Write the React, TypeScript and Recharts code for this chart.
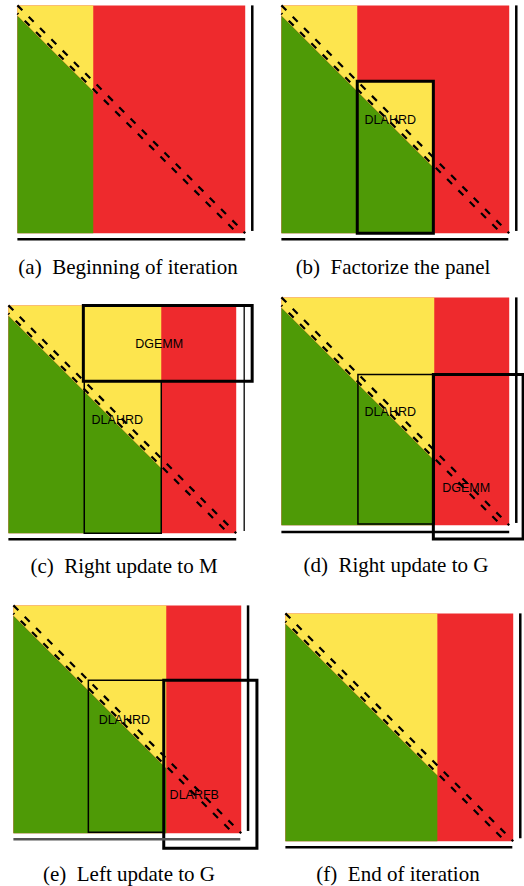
import React from "react";
import {
  ComposedChart,
  Area,
  XAxis,
  YAxis,
  ReferenceArea,
  ReferenceLine,
  ReferenceDot,
} from "recharts";

// All values are fractions of the matrix order n (row 0 at the top).
const captions = [
  "(a)\u2002Beginning of iteration",
  "(b)\u2002Factorize the panel",
  "(c)\u2002Right update to M",
  "(d)\u2002Right update to G",
  "(e)\u2002Left update to G",
  "(f)\u2002End of iteration",
];

// columns already reduced (yellow above / green below the subdiagonal)
const reducedCols = [0.333, 0.333, 0.671, 0.671, 0.671, 0.667];
// panel being factorized (only in b)
const panelCols: ([number, number] | null)[] = [null, [0.333, 0.667], null, null, null, null];
const panelTopRow = 0.333;

// the two dashed diagonals
const diagUpper = [
  { x: 0, y: 0 },
  { x: 1, y: 1 },
];
const diagLower = [
  { x: 0, y: 0.035 },
  { x: 0.965, y: 1 },
];
const greenDrop = 0.045;

// right and bottom bars
const rightBarX = [1.031, 1.031, 1.035, 1.031, 1.03, 1.031];
const rightBarEnd = [0.99, 0.99, 0.99, 0.99, 0.99, 0.987];
const bottomBarY = [1.026, 1.026, 1.026, 1.03, 1.026, 1.026];
const bottomBarEnd = [1, 0.996, 1, 1, 0.996, 0.996];

interface Box {
  x1: number;
  x2: number;
  y1: number;
  y2: number;
  heavy: boolean;
  label: string;
  lx: number;
  ly: number;
}

const boxes: Box[][] = [
  [],
  [{ x1: 0.333, x2: 0.667, y1: 0.333, y2: 1, heavy: true, label: "DLAHRD", lx: 0.478, ly: 0.5 }],
  [
    { x1: 0.333, x2: 0.671, y1: 0.333, y2: 1, heavy: false, label: "DLAHRD", lx: 0.478, ly: 0.5 },
    { x1: 0.329, x2: 1.07, y1: 0, y2: 0.333, heavy: true, label: "DGEMM", lx: 0.662, ly: 0.167 },
  ],
  [
    { x1: 0.336, x2: 0.671, y1: 0.338, y2: 0.995, heavy: false, label: "DLAHRD", lx: 0.478, ly: 0.5 },
    { x1: 0.667, x2: 1.061, y1: 0.338, y2: 1.061, heavy: true, label: "DGEMM", lx: 0.811, ly: 0.833 },
  ],
  [
    { x1: 0.329, x2: 0.66, y1: 0.329, y2: 0.996, heavy: false, label: "DLAHRD", lx: 0.487, ly: 0.5 },
    { x1: 0.66, x2: 1.069, y1: 0.329, y2: 1.066, heavy: true, label: "DLARFB", lx: 0.794, ly: 0.829 },
  ],
  [],
];

// layout
const origins = [
  [17, 5],
  [281, 5],
  [8, 305],
  [281, 297],
  [13, 605],
  [285, 613],
];
const captionCenters = [
  [128, 268],
  [393, 268],
  [124, 567],
  [396, 566],
  [129, 875],
  [398, 875],
];

const RED = "#ee2a2d";
const YELLOW = "#fde54e";
const GREEN = "#4e9a06";

const MIN = -0.05;
const MAX = 1.1;
const SIZE = 228;
const CHART = Math.round(SIZE * (MAX - MIN));
const PAD = SIZE * -MIN;
// shift so the dashes of the two diagonals sit side by side
const DASH_SHIFT = (diagLower[0].y / 2) * SIZE * Math.SQRT2;

const Panel: React.FC<{ i: number }> = ({ i }) => {
  const c = reducedCols[i];
  const pc = panelCols[i];
  const red = [
    { x: 0, v: [0, 1] },
    { x: 1, v: [0, 1] },
  ];
  const yellow = [
    { x: 0, v: [0, greenDrop] },
    { x: c, v: [0, c + greenDrop] },
  ];
  if (pc) {
    yellow.push(
      { x: pc[0], v: [panelTopRow, pc[0] + greenDrop] },
      { x: pc[1], v: [panelTopRow, pc[1] + greenDrop] }
    );
  }
  const gEnd = pc ? pc[1] : c;
  const green = [
    { x: 0, v: [greenDrop, 1] },
    { x: gEnd, v: [gEnd + greenDrop, 1] },
  ];

  return (
    <div
      style={{
        position: "absolute",
        left: origins[i][0] - PAD,
        top: origins[i][1] - PAD,
      }}
    >
      <ComposedChart width={CHART} height={CHART} margin={{ top: 0, right: 0, bottom: 0, left: 0 }}>
        <XAxis type="number" dataKey="x" domain={[MIN, MAX]} hide allowDataOverflow />
        <YAxis type="number" domain={[MIN, MAX]} reversed hide width={0} allowDataOverflow />

        <Area data={red} dataKey="v" type="linear" stroke="none" fill={RED} fillOpacity={1} isAnimationActive={false} dot={false} activeDot={false} />
        <Area data={yellow} dataKey="v" type="linear" stroke="none" fill={YELLOW} fillOpacity={1} isAnimationActive={false} dot={false} activeDot={false} />
        <Area data={green} dataKey="v" type="linear" stroke="none" fill={GREEN} fillOpacity={1} isAnimationActive={false} dot={false} activeDot={false} />

        {/* dashed subdiagonals */}
        <ReferenceLine segment={diagUpper} stroke="#000" strokeWidth={2.2} strokeDasharray="7 9" />
        <ReferenceLine
          segment={diagLower}
          stroke="#000"
          strokeWidth={2.2}
          strokeDasharray="7 9"
          strokeDashoffset={DASH_SHIFT}
        />

        {/* right and bottom bars */}
        <ReferenceLine
          segment={[
            { x: rightBarX[i], y: 0 },
            { x: rightBarX[i], y: rightBarEnd[i] },
          ]}
          stroke="#000"
          strokeWidth={i === 2 ? 1.3 : 2.5}
        />
        <ReferenceLine
          segment={[
            { x: 0, y: bottomBarY[i] },
            { x: bottomBarEnd[i], y: bottomBarY[i] },
          ]}
          stroke={i === 4 ? "#555" : "#000"}
          strokeWidth={2.5}
        />

        {boxes[i].map((b, k) => (
          <ReferenceArea
            key={"box" + k}
            x1={b.x1}
            x2={b.x2}
            y1={b.y1}
            y2={b.y2}
            fill="none"
            fillOpacity={0}
            stroke="#000"
            strokeOpacity={1}
            strokeWidth={b.heavy ? 3 : 1.5}
          />
        ))}
        {boxes[i].map((b, k) => (
          <ReferenceDot
            key={"lab" + k}
            x={b.lx}
            y={b.ly}
            r={0}
            fill="none"
            stroke="none"
            label={{
              value: b.label,
              position: "center",
              fill: "#000",
              fontSize: 12.5,
              fontFamily: "Liberation Sans, Arial, sans-serif",
            }}
          />
        ))}
      </ComposedChart>
    </div>
  );
};

const App: React.FC = () => {
  return (
    <div style={{ position: "absolute", left: 0, top: 0, width: 524, height: 886, background: "#fff" }}>
      {captions.map((_, i) => (
        <Panel key={i} i={i} />
      ))}
      {captions.map((t, i) => (
        <div
          key={"cap" + i}
          style={{
            position: "absolute",
            left: captionCenters[i][0] - 130,
            top: captionCenters[i][1] - 13,
            width: 260,
            textAlign: "center",
            fontFamily: "Liberation Serif, Times New Roman, serif",
            fontSize: 21,
            lineHeight: "24px",
            color: "#000",
            whiteSpace: "nowrap",
          }}
        >
          {t}
        </div>
      ))}
    </div>
  );
};

export default App;
